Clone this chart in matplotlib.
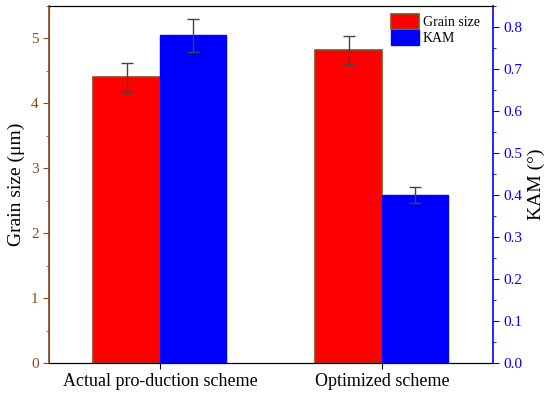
import numpy as np
import matplotlib.pyplot as plt
from matplotlib.ticker import MultipleLocator

plt.rcParams['font.family'] = ['Liberation Serif', 'DejaVu Serif']

categories = ["Actual pro-duction scheme", "Optimized scheme"]
grain_size = [4.40, 4.82]
grain_err = [0.22, 0.22]
kam = [0.78, 0.40]
kam_err = [0.04, 0.02]

brown = '#8B4A1C'
blue = '#0000FF'
red = '#FF0000'

x = np.arange(len(categories))
w = 0.3

fig, ax1 = plt.subplots(figsize=(5.5, 3.98), dpi=100)
fig.subplots_adjust(left=0.089, right=0.896, top=0.985, bottom=0.088)
ax2 = ax1.twinx()

b1 = ax1.bar(x - w / 2, grain_size, w, color=red, edgecolor=brown, linewidth=1.2,
             yerr=grain_err, error_kw=dict(ecolor='#444444', elinewidth=1, capsize=4, capthick=1),
             label='Grain size', zorder=2)
b2 = ax2.bar(x + w / 2, kam, w, color=blue, edgecolor=blue, linewidth=1.0,
             yerr=kam_err, error_kw=dict(ecolor='#444444', elinewidth=1, capsize=4, capthick=1),
             label='KAM', zorder=2)

ax1.set_xlim(-0.5, 1.5)
ax1.set_ylim(0, 5.5)
ax2.set_ylim(0, 0.85)
ax1.set_xticks(x)
ax1.set_xticklabels(categories, fontsize=13)

ax1.yaxis.set_major_locator(MultipleLocator(1))
ax1.yaxis.set_minor_locator(MultipleLocator(0.5))
ax2.yaxis.set_major_locator(MultipleLocator(0.1))
ax2.yaxis.set_minor_locator(MultipleLocator(0.05))
ax2.set_yticks(np.arange(0, 0.81, 0.1))
ax2.set_yticklabels([f"{v:.1f}" for v in np.arange(0, 0.81, 0.1)])

ax1.tick_params(axis='y', colors=brown, labelsize=11, direction='out', length=4)
ax1.tick_params(axis='y', which='minor', colors=brown, length=2.5)
ax1.tick_params(axis='x', direction='out', length=4)
ax2.tick_params(axis='y', colors=blue, labelsize=11, direction='out', length=4)
ax2.tick_params(axis='y', which='minor', colors=blue, length=2.5)

ax1.spines['left'].set_color(brown)
ax2.spines['left'].set_color(brown)
ax2.spines['right'].set_color(blue)
ax1.spines['right'].set_visible(False)
for sp in ['left', 'right']:
    ax2.spines[sp].set_linewidth(1.2)

ax1.set_ylabel("Grain size (μm)", fontsize=14)
ax2.set_ylabel("KAM (°)", fontsize=14)

ax2.legend([b1, b2], ['Grain size', 'KAM'], loc='upper right', bbox_to_anchor=(0.99, 1.0),
           frameon=False, fontsize=10, handlelength=2.0, handleheight=1.2,
           handletextpad=0.3, labelspacing=0.1, borderaxespad=0.2)

plt.savefig("out.png", dpi=100)
